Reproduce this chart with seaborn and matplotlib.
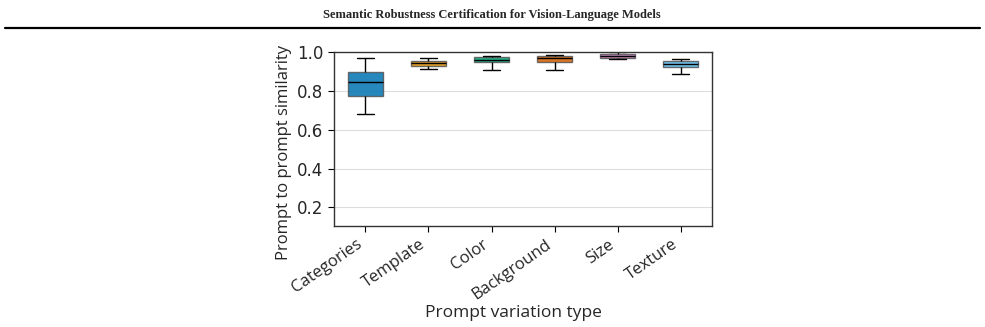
import numpy as np
import pandas as pd
import matplotlib
matplotlib.use("Agg")
import matplotlib.pyplot as plt
import seaborn as sns

# five-number summaries: min, q1, median, q3, max
categories = ["Categories", "Template", "Color", "Background", "Size", "Texture"]
cat_vals = [0.680, 0.776, 0.844, 0.897, 0.967]
template_vals = [0.914, 0.928, 0.944, 0.955, 0.971]
color_vals = [0.909, 0.949, 0.961, 0.972, 0.979]
background_vals = [0.908, 0.947, 0.969, 0.981, 0.983]
size_vals = [0.966, 0.969, 0.979, 0.990, 0.998]
texture_vals = [0.887, 0.923, 0.938, 0.955, 0.962]
yticks = [0.2, 0.4, 0.6, 0.8, 1.0]

series = [cat_vals, template_vals, color_vals, background_vals, size_vals, texture_vals]
df = pd.DataFrame({
    "type": np.repeat(categories, 5),
    "sim": np.concatenate(series),
})

sns.set_style("white")
plt.rcParams["font.family"] = ["Open Sans", "DejaVu Sans"]

fig = plt.figure(figsize=(9.85, 3.27), dpi=100)
ax = fig.add_axes([0.339, 0.309, 0.384, 0.532])

palette = sns.color_palette("colorblind")
pal = [palette[0], palette[1], palette[2], palette[3], palette[4], palette[9]]

sns.boxplot(data=df, x="type", y="sim", hue="type", palette=pal, legend=False,
            whis=(0, 100), width=0.56, saturation=1, linecolor="black", linewidth=1,
            boxprops=dict(alpha=0.85, edgecolor="#555555"), ax=ax)

ax.set_ylim(0.105, 1.0)
ax.set_yticks(yticks)
ax.set_yticklabels([f"{t:.1f}" for t in yticks], family="DejaVu Sans", fontsize=12)
ax.yaxis.grid(True, color="#dddddd", linewidth=0.8)
ax.set_axisbelow(True)
for s in ax.spines.values():
    s.set_color("#333333")
    s.set_linewidth(1)
ax.tick_params(axis="both", which="both", length=4, width=0.8, color="black",
               left=True, bottom=True)
ax.set_xticks(range(len(categories)))
ax.set_xticklabels(categories, rotation=35, ha="right", fontsize=12)
ax.set_xlabel("Prompt variation type", fontsize=12.5)
ax.xaxis.set_label_coords(0.475, -0.455)
ax.set_ylabel("Prompt to prompt similarity", fontsize=12)
ax.yaxis.set_label_coords(-0.11, 0.42)

# page header
fig.text(0.4995, 0.955, "Semantic Robustness Certification for Vision-Language Models",
         ha="center", va="center", fontsize=9, fontweight="bold",
         family="Liberation Serif")
fig.add_artist(plt.Line2D([0.005, 0.995], [0.914, 0.914], color="black", linewidth=1.6))

fig.savefig("out.png", dpi=100)
